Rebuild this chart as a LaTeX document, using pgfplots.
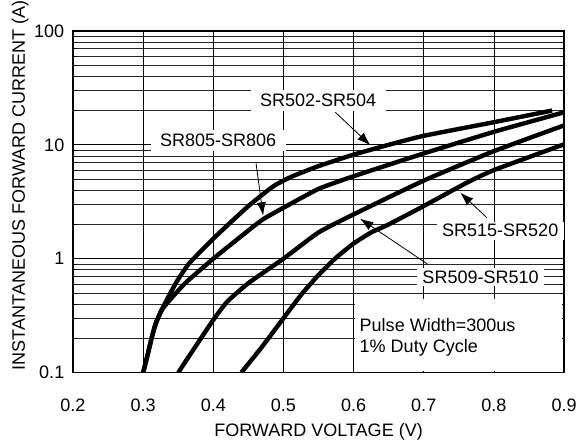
\documentclass[border=0pt]{standalone}
\usepackage{fontspec}
\setmainfont{Liberation Sans}
\usepackage{pgfplots}
\pgfplotsset{compat=1.18}
\usetikzlibrary{arrows.meta}

\begin{document}
\begin{tikzpicture}
\begin{axis}[
  scale only axis, width=368pt, height=256pt,
  ymode=log, xmin=0.2, xmax=0.9, ymin=0.1, ymax=100,
  xtick={0.2,0.3,0.4,0.5,0.6,0.7,0.8,0.9},
  xticklabels={0.2,0.3,0.4,0.5,0.6,0.7,0.8,0.9},
  ytick={0.1,1,10,100}, yticklabels={0.1,1,10,100},
  grid=both,
  major grid style={black, line width=0.5pt},
  minor grid style={black!85, line width=0.5pt},
  axis line style={line width=0.9pt},
  tick style={black, line width=0.5pt},
  font=\fontsize{13.5}{16}\selectfont,
  /pgf/number format/assume math mode=true,
  xticklabel style={anchor=center, inner xsep=0pt, yshift=-24.5pt},
  yticklabel style={xshift=-3pt},
  xlabel={FORWARD VOLTAGE (V)},
  ylabel={INSTANTANEOUS FORWARD CURRENT (A)},
  xlabel style={at={(axis description cs:0.5,-0.173)}, anchor=center},
  ylabel style={at={(axis description cs:-0.090,0.548)}, anchor=south, inner sep=0pt},
]
% SR502-SR504
\addplot[line width=3.3pt, smooth, tension=0.3] coordinates {
  (0.300,0.1) (0.306,0.14) (0.312,0.2) (0.318,0.27) (0.326,0.35) (0.335,0.45)
  (0.348,0.63) (0.365,0.90) (0.400,1.5) (0.450,2.9) (0.485,4.3) (0.510,5.2)
  (0.550,6.5) (0.600,8.2) (0.650,10.0) (0.700,12.0) (0.800,15.8) (0.883,20.0)};
% SR805-SR806
\addplot[line width=3.3pt, smooth, tension=0.3] coordinates {
  (0.300,0.1) (0.306,0.14) (0.312,0.2) (0.318,0.27) (0.326,0.35) (0.336,0.42)
  (0.360,0.61) (0.400,1.0) (0.440,1.58) (0.470,2.2) (0.500,2.8) (0.550,4.1)
  (0.600,5.3) (0.700,8.4) (0.800,13.0) (0.900,19.3)};
% SR509-SR510
\addplot[line width=3.3pt, smooth, tension=0.3] coordinates {
  (0.350,0.1) (0.380,0.19) (0.400,0.29) (0.420,0.42) (0.450,0.61) (0.500,1.0)
  (0.550,1.7) (0.600,2.45) (0.700,4.85) (0.800,8.8) (0.900,14.8)};
% SR515-SR520
\addplot[line width=3.3pt, smooth, tension=0.3] coordinates {
  (0.440,0.1) (0.470,0.17) (0.500,0.30) (0.525,0.48) (0.550,0.72) (0.575,1.02)
  (0.600,1.36) (0.625,1.7) (0.650,2.0) (0.700,2.9) (0.760,4.6) (0.800,6.0)
  (0.900,10.1)};

\fill[white] (axis cs:0.602,0.104) rectangle (axis cs:0.897,0.44);
\node[anchor=west] at (axis cs:0.602,0.263) {Pulse Width=300us};
\node[anchor=west] at (axis cs:0.602,0.165) {1\% Duty Cycle};

\node[fill=white, inner xsep=7pt, inner ysep=3pt] at (axis cs:0.5495,24.5) {SR502-SR504};
\node[fill=white, inner xsep=7pt, inner ysep=3pt] at (axis cs:0.407,10.9) {SR805-SR806};
\node[fill=white, inner xsep=4pt, inner ysep=2pt] at (axis cs:0.809,1.76) {SR515-SR520};
\node[fill=white, inner xsep=4pt, inner ysep=2pt] at (axis cs:0.781,0.69) {SR509-SR510};

\draw[-{Latex[length=10pt,width=7pt]}, line width=0.6pt] (axis cs:0.574,19.3) -- (axis cs:0.624,9.9);
\draw[-{Latex[length=10pt,width=7pt]}, line width=0.6pt] (axis cs:0.461,6.85) -- (axis cs:0.471,2.39);
\draw[-{Latex[length=10pt,width=7pt]}, line width=0.6pt] (axis cs:0.790,2.29) -- (axis cs:0.752,3.8);
\draw[-{Latex[length=10pt,width=7pt]}, line width=0.6pt] (axis cs:0.705,0.90) -- (axis cs:0.609,2.25);
\end{axis}
\path ([xshift=-54.7pt,yshift=-55.5pt]current axis.south west)
      ([xshift=11.2pt,yshift=23.2pt]current axis.north east);
\end{tikzpicture}
\end{document}
